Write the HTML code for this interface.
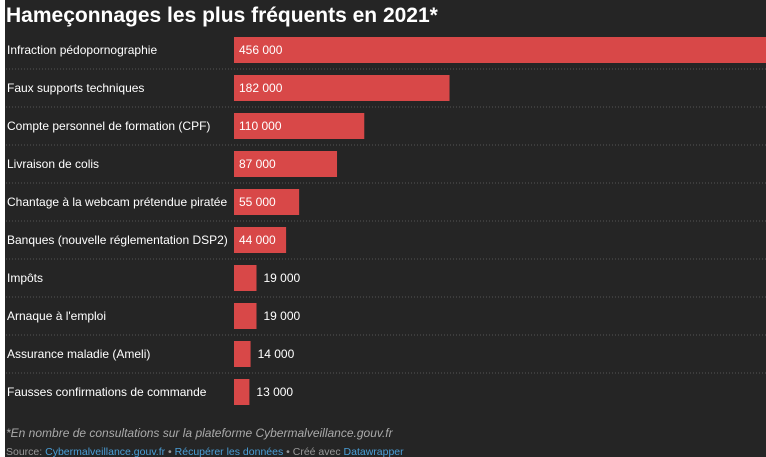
<!DOCTYPE html>
<html><head><meta charset="utf-8"><style>
body{margin:0;width:766px;height:457px;overflow:hidden;background:#fff;font-family:"Liberation Sans",sans-serif;}
#wrap{position:absolute;left:5px;top:0;width:761px;height:457px;background:#252525;overflow:hidden;}
</style></head><body>
<div id="wrap">
<svg id="chart" width="766" height="457" style="position:absolute;left:-5px;top:0">
<text x="6" y="22" fill="#fff" font-size="21" font-weight="bold">Hameçonnages les plus fréquents en 2021*</text>
<text x="6" y="437" fill="#aaa" font-size="12" font-style="italic">*En nombre de consultations sur la plateforme Cybermalveillance.gouv.fr</text>
<text x="6" y="455" fill="#999" font-size="10.5">Source: <tspan fill="#4a9fd8">Cybermalveillance.gouv.fr</tspan> • <tspan fill="#4a9fd8">Récupérer les données</tspan> • Créé avec <tspan fill="#4a9fd8">Datawrapper</tspan></text>
</svg>
</div>
<script>
const categories=["Infraction pédopornographie","Faux supports techniques","Compte personnel de formation (CPF)","Livraison de colis","Chantage à la webcam prétendue piratée","Banques (nouvelle réglementation DSP2)","Impôts","Arnaque à l'emploi","Assurance maladie (Ameli)","Fausses confirmations de commande"];
const values=[456000,182000,110000,87000,55000,44000,19000,19000,14000,13000];
const valueLabels=["456 000","182 000","110 000","87 000","55 000","44 000","19 000","19 000","14 000","13 000"];
const svg=document.getElementById('chart');const NS='http://www.w3.org/2000/svg';
const x0=234,xw=540,maxV=Math.max(...values);
const xs=v=>v/maxV*xw;
const y0=37,pitch=38,bh=26;
function mk(t,a){const e=document.createElementNS(NS,t);for(const k in a)e.setAttribute(k,a[k]);svg.appendChild(e);return e;}
categories.forEach((c,i)=>{
 const y=y0+i*pitch;
 const l=mk('text',{x:7,y:y+17,fill:'#fff','font-size':12});l.textContent=c;
 
 
 const w=Math.max(xs(values[i]),2);
 const r=mk('rect',{x:x0,y:y,width:w,height:bh,fill:'#d84848'});
 
 
 const inside=w>45;
 const t=mk('text',{x:inside?x0+5:x0+w+7,y:y+17,fill:'#fff','font-size':12});t.textContent=valueLabels[i];
 
 
 if(i<categories.length-1){const s=mk('line',{x1:6,x2:766,y1:y+bh+6,y2:y+bh+6,stroke:'#555','stroke-dasharray':'1,2'});
 
 }
});
</script>
</body></html>
